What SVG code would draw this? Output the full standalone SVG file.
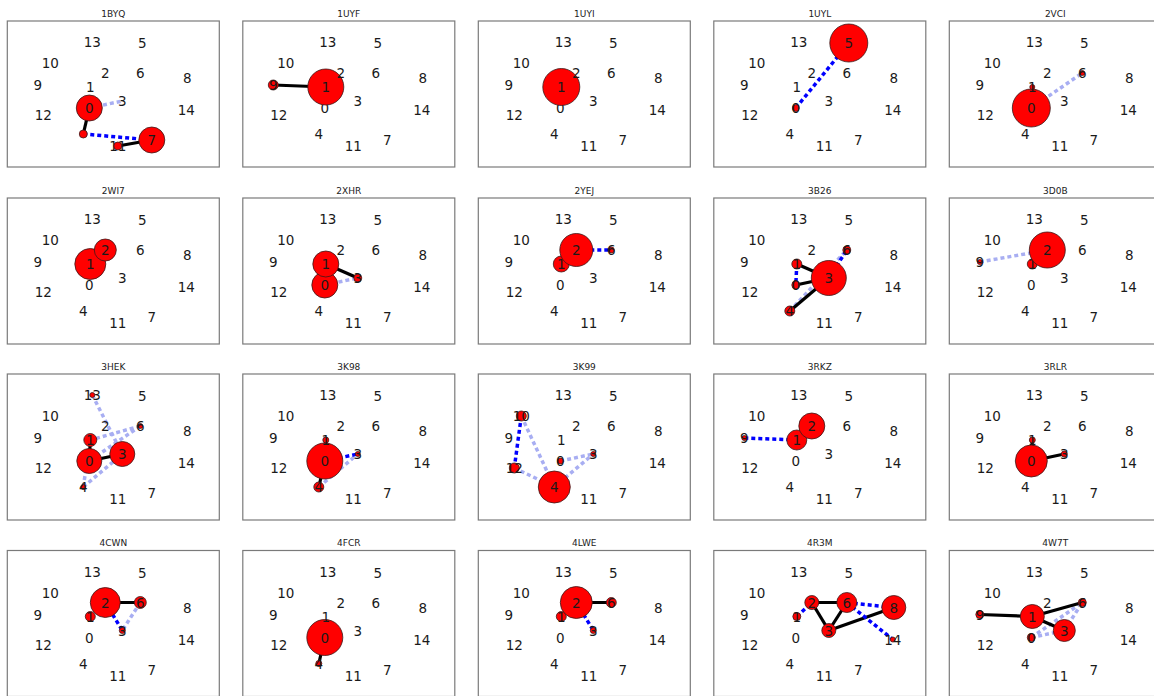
<svg xmlns="http://www.w3.org/2000/svg" width="1154" height="696" viewBox="0 0 1154 696">
<style>
.t{font-family:"DejaVu Sans",sans-serif;font-size:9px;fill:#222;text-anchor:middle}
.l{font-family:"DejaVu Sans",sans-serif;font-size:13.5px;fill:#1a1a1a;text-anchor:middle}
.f{fill:#fff;stroke:#7a7a7a;stroke-width:1.2}
.k{stroke:#000;stroke-width:3.2}
.b{stroke:#0000ff;stroke-width:3.5;stroke-dasharray:4 3}
.lb{stroke:#a8aef2;stroke-width:3.5;stroke-dasharray:4 3}
.n{fill:#ff0000;stroke:#3a1a1a;stroke-width:0.8}
</style>
<rect width="1154" height="696" fill="#fff"/>

<!-- 1BYQ -->
<g id="p-1BYQ" transform="translate(7.3,21)">
<text class="t" x="106" y="-4.5">1BYQ</text>
<rect class="f" x="0" y="0" width="212" height="146"/>
<g id="p-1BYQ-edges">
<line class="lb" x1="82" y1="87" x2="115" y2="80"/>
<line class="k" x1="82" y1="87" x2="76" y2="113"/>
<line class="b" x1="76" y1="113" x2="144.5" y2="119"/>
<line class="k" x1="110.5" y1="125" x2="144.5" y2="119"/>
</g>
<g id="p-1BYQ-n0"><circle class="n" cx="82" cy="87" r="13"/><text class="l" x="82" y="92">0</text></g>
<g id="p-1BYQ-n1"><text class="l" x="83" y="71">1</text></g>
<g id="p-1BYQ-n2"><text class="l" x="98" y="57">2</text></g>
<g id="p-1BYQ-n3"><text class="l" x="115" y="85">3</text></g>
<g id="p-1BYQ-n4"><circle class="n" cx="76" cy="113" r="4"/></g>
<g id="p-1BYQ-n5"><text class="l" x="135" y="27">5</text></g>
<g id="p-1BYQ-n6"><text class="l" x="133" y="57">6</text></g>
<g id="p-1BYQ-n7"><circle class="n" cx="144.5" cy="119" r="13"/><text class="l" x="144.5" y="124">7</text></g>
<g id="p-1BYQ-n8"><text class="l" x="180" y="62">8</text></g>
<g id="p-1BYQ-n9"><text class="l" x="30.5" y="69">9</text></g>
<g id="p-1BYQ-n10"><text class="l" x="43" y="47">10</text></g>
<g id="p-1BYQ-n11"><text class="l" x="110.5" y="130">11</text><circle class="n" cx="110.5" cy="125" r="4"/></g>
<g id="p-1BYQ-n12"><text class="l" x="36" y="99">12</text></g>
<g id="p-1BYQ-n13"><text class="l" x="85" y="26">13</text></g>
<g id="p-1BYQ-n14"><text class="l" x="179" y="94">14</text></g>
</g>

<!-- 1UYF -->
<g id="p-1UYF" transform="translate(242.8,21)">
<text class="t" x="106" y="-4.5">1UYF</text>
<rect class="f" x="0" y="0" width="212" height="146"/>
<g id="p-1UYF-edges">
<line class="k" x1="30.5" y1="64" x2="83" y2="66"/>
</g>
<g id="p-1UYF-n0"><text class="l" x="82" y="92">0</text></g>
<g id="p-1UYF-n1"><circle class="n" cx="83" cy="66" r="18"/><text class="l" x="83" y="71">1</text></g>
<g id="p-1UYF-n2"><text class="l" x="98" y="57">2</text></g>
<g id="p-1UYF-n3"><text class="l" x="115" y="85">3</text></g>
<g id="p-1UYF-n4"><text class="l" x="76" y="118">4</text></g>
<g id="p-1UYF-n5"><text class="l" x="135" y="27">5</text></g>
<g id="p-1UYF-n6"><text class="l" x="133" y="57">6</text></g>
<g id="p-1UYF-n7"><text class="l" x="144.5" y="124">7</text></g>
<g id="p-1UYF-n8"><text class="l" x="180" y="62">8</text></g>
<g id="p-1UYF-n9"><circle class="n" cx="30.5" cy="64" r="5"/><text class="l" x="30.5" y="69">9</text></g>
<g id="p-1UYF-n10"><text class="l" x="43" y="47">10</text></g>
<g id="p-1UYF-n11"><text class="l" x="110.5" y="130">11</text></g>
<g id="p-1UYF-n12"><text class="l" x="36" y="99">12</text></g>
<g id="p-1UYF-n13"><text class="l" x="85" y="26">13</text></g>
<g id="p-1UYF-n14"><text class="l" x="179" y="94">14</text></g>
</g>

<!-- 1UYI -->
<g id="p-1UYI" transform="translate(478.3,21)">
<text class="t" x="106" y="-4.5">1UYI</text>
<rect class="f" x="0" y="0" width="212" height="146"/>
<g id="p-1UYI-edges"></g>
<g id="p-1UYI-n0"><text class="l" x="82" y="92">0</text></g>
<g id="p-1UYI-n1"><circle class="n" cx="83" cy="66" r="18.5"/><text class="l" x="83" y="71">1</text></g>
<g id="p-1UYI-n2"><text class="l" x="98" y="57">2</text></g>
<g id="p-1UYI-n3"><text class="l" x="115" y="85">3</text></g>
<g id="p-1UYI-n4"><text class="l" x="76" y="118">4</text></g>
<g id="p-1UYI-n5"><text class="l" x="135" y="27">5</text></g>
<g id="p-1UYI-n6"><text class="l" x="133" y="57">6</text></g>
<g id="p-1UYI-n7"><text class="l" x="144.5" y="124">7</text></g>
<g id="p-1UYI-n8"><text class="l" x="180" y="62">8</text></g>
<g id="p-1UYI-n9"><text class="l" x="30.5" y="69">9</text></g>
<g id="p-1UYI-n10"><text class="l" x="43" y="47">10</text></g>
<g id="p-1UYI-n11"><text class="l" x="110.5" y="130">11</text></g>
<g id="p-1UYI-n12"><text class="l" x="36" y="99">12</text></g>
<g id="p-1UYI-n13"><text class="l" x="85" y="26">13</text></g>
<g id="p-1UYI-n14"><text class="l" x="179" y="94">14</text></g>
</g>

<!-- 1UYL -->
<g id="p-1UYL" transform="translate(713.8,21)">
<text class="t" x="106" y="-4.5">1UYL</text>
<rect class="f" x="0" y="0" width="212" height="146"/>
<g id="p-1UYL-edges">
<line class="b" x1="82" y1="87" x2="135" y2="22"/>
</g>
<g id="p-1UYL-n0"><circle class="n" cx="82" cy="87" r="3.5"/><text class="l" x="82" y="92">0</text></g>
<g id="p-1UYL-n1"><text class="l" x="83" y="71">1</text></g>
<g id="p-1UYL-n2"><text class="l" x="98" y="57">2</text></g>
<g id="p-1UYL-n3"><text class="l" x="115" y="85">3</text></g>
<g id="p-1UYL-n4"><text class="l" x="76" y="118">4</text></g>
<g id="p-1UYL-n5"><circle class="n" cx="135" cy="22" r="19"/><text class="l" x="135" y="27">5</text></g>
<g id="p-1UYL-n6"><text class="l" x="133" y="57">6</text></g>
<g id="p-1UYL-n7"><text class="l" x="144.5" y="124">7</text></g>
<g id="p-1UYL-n8"><text class="l" x="180" y="62">8</text></g>
<g id="p-1UYL-n9"><text class="l" x="30.5" y="69">9</text></g>
<g id="p-1UYL-n10"><text class="l" x="43" y="47">10</text></g>
<g id="p-1UYL-n11"><text class="l" x="110.5" y="130">11</text></g>
<g id="p-1UYL-n12"><text class="l" x="36" y="99">12</text></g>
<g id="p-1UYL-n13"><text class="l" x="85" y="26">13</text></g>
<g id="p-1UYL-n14"><text class="l" x="179" y="94">14</text></g>
</g>

<!-- 2VCI -->
<g id="p-2VCI" transform="translate(949.3,21)">
<text class="t" x="106" y="-4.5">2VCI</text>
<rect class="f" x="0" y="0" width="212" height="146"/>
<g id="p-2VCI-edges">
<line class="lb" x1="82" y1="87" x2="133" y2="52"/>
</g>
<g id="p-2VCI-n0"><circle class="n" cx="82" cy="87" r="19"/><text class="l" x="82" y="92">0</text></g>
<g id="p-2VCI-n1"><circle class="n" cx="83" cy="66" r="2.5"/><text class="l" x="83" y="71">1</text></g>
<g id="p-2VCI-n2"><text class="l" x="98" y="57">2</text></g>
<g id="p-2VCI-n3"><text class="l" x="115" y="85">3</text></g>
<g id="p-2VCI-n4"><text class="l" x="76" y="118">4</text></g>
<g id="p-2VCI-n5"><text class="l" x="135" y="27">5</text></g>
<g id="p-2VCI-n6"><circle class="n" cx="133" cy="52" r="2.5"/><text class="l" x="133" y="57">6</text></g>
<g id="p-2VCI-n7"><text class="l" x="144.5" y="124">7</text></g>
<g id="p-2VCI-n8"><text class="l" x="180" y="62">8</text></g>
<g id="p-2VCI-n9"><text class="l" x="30.5" y="69">9</text></g>
<g id="p-2VCI-n10"><text class="l" x="43" y="47">10</text></g>
<g id="p-2VCI-n11"><text class="l" x="110.5" y="130">11</text></g>
<g id="p-2VCI-n12"><text class="l" x="36" y="99">12</text></g>
<g id="p-2VCI-n13"><text class="l" x="85" y="26">13</text></g>
<g id="p-2VCI-n14"><text class="l" x="179" y="94">14</text></g>
</g>

<!-- 2WI7 -->
<g id="p-2WI7" transform="translate(7.3,198)">
<text class="t" x="106" y="-4.5">2WI7</text>
<rect class="f" x="0" y="0" width="212" height="146"/>
<g id="p-2WI7-edges"></g>
<g id="p-2WI7-n0"><text class="l" x="82" y="92">0</text></g>
<g id="p-2WI7-n1"><circle class="n" cx="83" cy="66" r="15.5"/><text class="l" x="83" y="71">1</text></g>
<g id="p-2WI7-n2"><circle class="n" cx="98" cy="52" r="11"/><text class="l" x="98" y="57">2</text></g>
<g id="p-2WI7-n3"><text class="l" x="115" y="85">3</text></g>
<g id="p-2WI7-n4"><text class="l" x="76" y="118">4</text></g>
<g id="p-2WI7-n5"><text class="l" x="135" y="27">5</text></g>
<g id="p-2WI7-n6"><text class="l" x="133" y="57">6</text></g>
<g id="p-2WI7-n7"><text class="l" x="144.5" y="124">7</text></g>
<g id="p-2WI7-n8"><text class="l" x="180" y="62">8</text></g>
<g id="p-2WI7-n9"><text class="l" x="30.5" y="69">9</text></g>
<g id="p-2WI7-n10"><text class="l" x="43" y="47">10</text></g>
<g id="p-2WI7-n11"><text class="l" x="110.5" y="130">11</text></g>
<g id="p-2WI7-n12"><text class="l" x="36" y="99">12</text></g>
<g id="p-2WI7-n13"><text class="l" x="85" y="26">13</text></g>
<g id="p-2WI7-n14"><text class="l" x="179" y="94">14</text></g>
</g>

<!-- 2XHR -->
<g id="p-2XHR" transform="translate(242.8,198)">
<text class="t" x="106" y="-4.5">2XHR</text>
<rect class="f" x="0" y="0" width="212" height="146"/>
<g id="p-2XHR-edges">
<line class="lb" x1="82" y1="87" x2="115" y2="80"/>
<line class="k" x1="83" y1="66" x2="115" y2="80"/>
</g>
<g id="p-2XHR-n0"><circle class="n" cx="82" cy="87" r="13"/><text class="l" x="82" y="92">0</text></g>
<g id="p-2XHR-n1"><circle class="n" cx="83" cy="66" r="13"/><text class="l" x="83" y="71">1</text></g>
<g id="p-2XHR-n2"><text class="l" x="98" y="57">2</text></g>
<g id="p-2XHR-n3"><circle class="n" cx="115" cy="80" r="4"/><text class="l" x="115" y="85">3</text></g>
<g id="p-2XHR-n4"><text class="l" x="76" y="118">4</text></g>
<g id="p-2XHR-n5"><text class="l" x="135" y="27">5</text></g>
<g id="p-2XHR-n6"><text class="l" x="133" y="57">6</text></g>
<g id="p-2XHR-n7"><text class="l" x="144.5" y="124">7</text></g>
<g id="p-2XHR-n8"><text class="l" x="180" y="62">8</text></g>
<g id="p-2XHR-n9"><text class="l" x="30.5" y="69">9</text></g>
<g id="p-2XHR-n10"><text class="l" x="43" y="47">10</text></g>
<g id="p-2XHR-n11"><text class="l" x="110.5" y="130">11</text></g>
<g id="p-2XHR-n12"><text class="l" x="36" y="99">12</text></g>
<g id="p-2XHR-n13"><text class="l" x="85" y="26">13</text></g>
<g id="p-2XHR-n14"><text class="l" x="179" y="94">14</text></g>
</g>

<!-- 2YEJ -->
<g id="p-2YEJ" transform="translate(478.3,198)">
<text class="t" x="106" y="-4.5">2YEJ</text>
<rect class="f" x="0" y="0" width="212" height="146"/>
<g id="p-2YEJ-edges">
<line class="b" x1="98" y1="52" x2="133" y2="52"/>
</g>
<g id="p-2YEJ-n0"><text class="l" x="82" y="92">0</text></g>
<g id="p-2YEJ-n1"><circle class="n" cx="83" cy="66" r="8"/><text class="l" x="83" y="71">1</text></g>
<g id="p-2YEJ-n2"><circle class="n" cx="98" cy="52" r="16.5"/><text class="l" x="98" y="57">2</text></g>
<g id="p-2YEJ-n3"><text class="l" x="115" y="85">3</text></g>
<g id="p-2YEJ-n4"><text class="l" x="76" y="118">4</text></g>
<g id="p-2YEJ-n5"><text class="l" x="135" y="27">5</text></g>
<g id="p-2YEJ-n6"><circle class="n" cx="133" cy="52" r="3"/><text class="l" x="133" y="57">6</text></g>
<g id="p-2YEJ-n7"><text class="l" x="144.5" y="124">7</text></g>
<g id="p-2YEJ-n8"><text class="l" x="180" y="62">8</text></g>
<g id="p-2YEJ-n9"><text class="l" x="30.5" y="69">9</text></g>
<g id="p-2YEJ-n10"><text class="l" x="43" y="47">10</text></g>
<g id="p-2YEJ-n11"><text class="l" x="110.5" y="130">11</text></g>
<g id="p-2YEJ-n12"><text class="l" x="36" y="99">12</text></g>
<g id="p-2YEJ-n13"><text class="l" x="85" y="26">13</text></g>
<g id="p-2YEJ-n14"><text class="l" x="179" y="94">14</text></g>
</g>

<!-- 3B26 -->
<g id="p-3B26" transform="translate(713.8,198)">
<text class="t" x="106" y="-4.5">3B26</text>
<rect class="f" x="0" y="0" width="212" height="146"/>
<g id="p-3B26-edges">
<line class="lb" x1="76" y1="113" x2="133" y2="52"/>
<line class="k" x1="83" y1="66" x2="115" y2="80"/>
<line class="k" x1="82" y1="87" x2="115" y2="80"/>
<line class="k" x1="76" y1="113" x2="115" y2="80"/>
<line class="b" x1="115" y1="80" x2="133" y2="52"/>
<line class="b" x1="83" y1="66" x2="82" y2="87"/>
</g>
<g id="p-3B26-n0"><circle class="n" cx="82" cy="87" r="4"/><text class="l" x="82" y="92">0</text></g>
<g id="p-3B26-n1"><circle class="n" cx="83" cy="66" r="5"/><text class="l" x="83" y="71">1</text></g>
<g id="p-3B26-n2"><text class="l" x="98" y="57">2</text></g>
<g id="p-3B26-n3"><circle class="n" cx="115" cy="80" r="17.5"/><text class="l" x="115" y="85">3</text></g>
<g id="p-3B26-n4"><circle class="n" cx="76" cy="113" r="5"/><text class="l" x="76" y="118">4</text></g>
<g id="p-3B26-n5"><text class="l" x="135" y="27">5</text></g>
<g id="p-3B26-n6"><circle class="n" cx="133" cy="52" r="4"/><text class="l" x="133" y="57">6</text></g>
<g id="p-3B26-n7"><text class="l" x="144.5" y="124">7</text></g>
<g id="p-3B26-n8"><text class="l" x="180" y="62">8</text></g>
<g id="p-3B26-n9"><text class="l" x="30.5" y="69">9</text></g>
<g id="p-3B26-n10"><text class="l" x="43" y="47">10</text></g>
<g id="p-3B26-n11"><text class="l" x="110.5" y="130">11</text></g>
<g id="p-3B26-n12"><text class="l" x="36" y="99">12</text></g>
<g id="p-3B26-n13"><text class="l" x="85" y="26">13</text></g>
<g id="p-3B26-n14"><text class="l" x="179" y="94">14</text></g>
</g>

<!-- 3D0B -->
<g id="p-3D0B" transform="translate(949.3,198)">
<text class="t" x="106" y="-4.5">3D0B</text>
<rect class="f" x="0" y="0" width="212" height="146"/>
<g id="p-3D0B-edges">
<line class="lb" x1="30.5" y1="64" x2="98" y2="52"/>
</g>
<g id="p-3D0B-n0"><text class="l" x="82" y="92">0</text></g>
<g id="p-3D0B-n1"><circle class="n" cx="83" cy="66" r="5"/><text class="l" x="83" y="71">1</text></g>
<g id="p-3D0B-n2"><circle class="n" cx="98" cy="52" r="18"/><text class="l" x="98" y="57">2</text></g>
<g id="p-3D0B-n3"><text class="l" x="115" y="85">3</text></g>
<g id="p-3D0B-n4"><text class="l" x="76" y="118">4</text></g>
<g id="p-3D0B-n5"><text class="l" x="135" y="27">5</text></g>
<g id="p-3D0B-n6"><text class="l" x="133" y="57">6</text></g>
<g id="p-3D0B-n7"><text class="l" x="144.5" y="124">7</text></g>
<g id="p-3D0B-n8"><text class="l" x="180" y="62">8</text></g>
<g id="p-3D0B-n9"><circle class="n" cx="30.5" cy="64" r="2.5"/><text class="l" x="30.5" y="69">9</text></g>
<g id="p-3D0B-n10"><text class="l" x="43" y="47">10</text></g>
<g id="p-3D0B-n11"><text class="l" x="110.5" y="130">11</text></g>
<g id="p-3D0B-n12"><text class="l" x="36" y="99">12</text></g>
<g id="p-3D0B-n13"><text class="l" x="85" y="26">13</text></g>
<g id="p-3D0B-n14"><text class="l" x="179" y="94">14</text></g>
</g>

<!-- 3HEK -->
<g id="p-3HEK" transform="translate(7.3,374)">
<text class="t" x="106" y="-4.5">3HEK</text>
<rect class="f" x="0" y="0" width="212" height="146"/>
<g id="p-3HEK-edges">
<line class="lb" x1="85" y1="21" x2="115" y2="80"/>
<line class="lb" x1="133" y1="52" x2="83" y2="66"/>
<line class="lb" x1="133" y1="52" x2="82" y2="87"/>
<line class="lb" x1="76" y1="113" x2="115" y2="80"/>
<line class="lb" x1="76" y1="113" x2="83" y2="66"/>
<line class="k" x1="82" y1="87" x2="83" y2="66"/>
<line class="k" x1="82" y1="87" x2="115" y2="80"/>
</g>
<g id="p-3HEK-n0"><circle class="n" cx="82" cy="87" r="12.5"/><text class="l" x="82" y="92">0</text></g>
<g id="p-3HEK-n1"><circle class="n" cx="83" cy="66" r="6.5"/><text class="l" x="83" y="71">1</text></g>
<g id="p-3HEK-n2"><text class="l" x="98" y="57">2</text></g>
<g id="p-3HEK-n3"><circle class="n" cx="115" cy="80" r="12.5"/><text class="l" x="115" y="85">3</text></g>
<g id="p-3HEK-n4"><circle class="n" cx="76" cy="113" r="2.5"/><text class="l" x="76" y="118">4</text></g>
<g id="p-3HEK-n5"><text class="l" x="135" y="27">5</text></g>
<g id="p-3HEK-n6"><circle class="n" cx="133" cy="52" r="2.5"/><text class="l" x="133" y="57">6</text></g>
<g id="p-3HEK-n7"><text class="l" x="144.5" y="124">7</text></g>
<g id="p-3HEK-n8"><text class="l" x="180" y="62">8</text></g>
<g id="p-3HEK-n9"><text class="l" x="30.5" y="69">9</text></g>
<g id="p-3HEK-n10"><text class="l" x="43" y="47">10</text></g>
<g id="p-3HEK-n11"><text class="l" x="110.5" y="130">11</text></g>
<g id="p-3HEK-n12"><text class="l" x="36" y="99">12</text></g>
<g id="p-3HEK-n13"><circle class="n" cx="85" cy="21" r="2.5"/><text class="l" x="85" y="26">13</text></g>
<g id="p-3HEK-n14"><text class="l" x="179" y="94">14</text></g>
</g>

<!-- 3K98 -->
<g id="p-3K98" transform="translate(242.8,374)">
<text class="t" x="106" y="-4.5">3K98</text>
<rect class="f" x="0" y="0" width="212" height="146"/>
<g id="p-3K98-edges">
<line class="lb" x1="76" y1="113" x2="115" y2="80"/>
<line class="k" x1="82" y1="87" x2="83" y2="66"/>
<line class="k" x1="82" y1="87" x2="76" y2="113"/>
<line class="b" x1="82" y1="87" x2="115" y2="80"/>
</g>
<g id="p-3K98-n0"><circle class="n" cx="82" cy="87" r="18"/><text class="l" x="82" y="92">0</text></g>
<g id="p-3K98-n1"><circle class="n" cx="83" cy="66" r="3"/><text class="l" x="83" y="71">1</text></g>
<g id="p-3K98-n2"><text class="l" x="98" y="57">2</text></g>
<g id="p-3K98-n3"><circle class="n" cx="115" cy="80" r="2.5"/><text class="l" x="115" y="85">3</text></g>
<g id="p-3K98-n4"><circle class="n" cx="76" cy="113" r="5"/><text class="l" x="76" y="118">4</text></g>
<g id="p-3K98-n5"><text class="l" x="135" y="27">5</text></g>
<g id="p-3K98-n6"><text class="l" x="133" y="57">6</text></g>
<g id="p-3K98-n7"><text class="l" x="144.5" y="124">7</text></g>
<g id="p-3K98-n8"><text class="l" x="180" y="62">8</text></g>
<g id="p-3K98-n9"><text class="l" x="30.5" y="69">9</text></g>
<g id="p-3K98-n10"><text class="l" x="43" y="47">10</text></g>
<g id="p-3K98-n11"><text class="l" x="110.5" y="130">11</text></g>
<g id="p-3K98-n12"><text class="l" x="36" y="99">12</text></g>
<g id="p-3K98-n13"><text class="l" x="85" y="26">13</text></g>
<g id="p-3K98-n14"><text class="l" x="179" y="94">14</text></g>
</g>

<!-- 3K99 -->
<g id="p-3K99" transform="translate(478.3,374)">
<text class="t" x="106" y="-4.5">3K99</text>
<rect class="f" x="0" y="0" width="212" height="146"/>
<g id="p-3K99-edges">
<line class="lb" x1="43" y1="42" x2="76" y2="113"/>
<line class="lb" x1="36" y1="94" x2="76" y2="113"/>
<line class="lb" x1="82" y1="87" x2="115" y2="80"/>
<line class="lb" x1="76" y1="113" x2="115" y2="80"/>
<line class="b" x1="43" y1="42" x2="36" y2="94"/>
</g>
<g id="p-3K99-n0"><circle class="n" cx="82" cy="87" r="3"/><text class="l" x="82" y="92">0</text></g>
<g id="p-3K99-n1"><text class="l" x="83" y="71">1</text></g>
<g id="p-3K99-n2"><text class="l" x="98" y="57">2</text></g>
<g id="p-3K99-n3"><circle class="n" cx="115" cy="80" r="2.5"/><text class="l" x="115" y="85">3</text></g>
<g id="p-3K99-n4"><circle class="n" cx="76" cy="113" r="16"/><text class="l" x="76" y="118">4</text></g>
<g id="p-3K99-n5"><text class="l" x="135" y="27">5</text></g>
<g id="p-3K99-n6"><text class="l" x="133" y="57">6</text></g>
<g id="p-3K99-n7"><text class="l" x="144.5" y="124">7</text></g>
<g id="p-3K99-n8"><text class="l" x="180" y="62">8</text></g>
<g id="p-3K99-n9"><text class="l" x="30.5" y="69">9</text></g>
<g id="p-3K99-n10"><circle class="n" cx="43" cy="42" r="5"/><text class="l" x="43" y="47">10</text></g>
<g id="p-3K99-n11"><text class="l" x="110.5" y="130">11</text></g>
<g id="p-3K99-n12"><circle class="n" cx="36" cy="94" r="5"/><text class="l" x="36" y="99">12</text></g>
<g id="p-3K99-n13"><text class="l" x="85" y="26">13</text></g>
<g id="p-3K99-n14"><text class="l" x="179" y="94">14</text></g>
</g>

<!-- 3RKZ -->
<g id="p-3RKZ" transform="translate(713.8,374)">
<text class="t" x="106" y="-4.5">3RKZ</text>
<rect class="f" x="0" y="0" width="212" height="146"/>
<g id="p-3RKZ-edges">
<line class="b" x1="30.5" y1="64" x2="83" y2="66"/>
</g>
<g id="p-3RKZ-n0"><text class="l" x="82" y="92">0</text></g>
<g id="p-3RKZ-n1"><circle class="n" cx="83" cy="66" r="10"/><text class="l" x="83" y="71">1</text></g>
<g id="p-3RKZ-n2"><circle class="n" cx="98" cy="52" r="13"/><text class="l" x="98" y="57">2</text></g>
<g id="p-3RKZ-n3"><text class="l" x="115" y="85">3</text></g>
<g id="p-3RKZ-n4"><text class="l" x="76" y="118">4</text></g>
<g id="p-3RKZ-n5"><text class="l" x="135" y="27">5</text></g>
<g id="p-3RKZ-n6"><text class="l" x="133" y="57">6</text></g>
<g id="p-3RKZ-n7"><text class="l" x="144.5" y="124">7</text></g>
<g id="p-3RKZ-n8"><text class="l" x="180" y="62">8</text></g>
<g id="p-3RKZ-n9"><circle class="n" cx="30.5" cy="64" r="2.5"/><text class="l" x="30.5" y="69">9</text></g>
<g id="p-3RKZ-n10"><text class="l" x="43" y="47">10</text></g>
<g id="p-3RKZ-n11"><text class="l" x="110.5" y="130">11</text></g>
<g id="p-3RKZ-n12"><text class="l" x="36" y="99">12</text></g>
<g id="p-3RKZ-n13"><text class="l" x="85" y="26">13</text></g>
<g id="p-3RKZ-n14"><text class="l" x="179" y="94">14</text></g>
</g>

<!-- 3RLR -->
<g id="p-3RLR" transform="translate(949.3,374)">
<text class="t" x="106" y="-4.5">3RLR</text>
<rect class="f" x="0" y="0" width="212" height="146"/>
<g id="p-3RLR-edges">
<line class="k" x1="82" y1="87" x2="115" y2="80"/>
<line class="k" x1="82" y1="87" x2="83" y2="66"/>
</g>
<g id="p-3RLR-n0"><circle class="n" cx="82" cy="87" r="16"/><text class="l" x="82" y="92">0</text></g>
<g id="p-3RLR-n1"><circle class="n" cx="83" cy="66" r="3"/><text class="l" x="83" y="71">1</text></g>
<g id="p-3RLR-n2"><text class="l" x="98" y="57">2</text></g>
<g id="p-3RLR-n3"><circle class="n" cx="115" cy="80" r="3"/><text class="l" x="115" y="85">3</text></g>
<g id="p-3RLR-n4"><text class="l" x="76" y="118">4</text></g>
<g id="p-3RLR-n5"><text class="l" x="135" y="27">5</text></g>
<g id="p-3RLR-n6"><text class="l" x="133" y="57">6</text></g>
<g id="p-3RLR-n7"><text class="l" x="144.5" y="124">7</text></g>
<g id="p-3RLR-n8"><text class="l" x="180" y="62">8</text></g>
<g id="p-3RLR-n9"><text class="l" x="30.5" y="69">9</text></g>
<g id="p-3RLR-n10"><text class="l" x="43" y="47">10</text></g>
<g id="p-3RLR-n11"><text class="l" x="110.5" y="130">11</text></g>
<g id="p-3RLR-n12"><text class="l" x="36" y="99">12</text></g>
<g id="p-3RLR-n13"><text class="l" x="85" y="26">13</text></g>
<g id="p-3RLR-n14"><text class="l" x="179" y="94">14</text></g>
</g>

<!-- 4CWN -->
<g id="p-4CWN" transform="translate(7.3,550.5)">
<text class="t" x="106" y="-4.5">4CWN</text>
<rect class="f" x="0" y="0" width="212" height="146"/>
<g id="p-4CWN-edges">
<line class="lb" x1="133" y1="52" x2="115" y2="80"/>
<line class="k" x1="98" y1="52" x2="133" y2="52"/>
<line class="b" x1="98" y1="52" x2="115" y2="80"/>
</g>
<g id="p-4CWN-n0"><text class="l" x="82" y="92">0</text></g>
<g id="p-4CWN-n1"><circle class="n" cx="83" cy="66" r="5"/><text class="l" x="83" y="71">1</text></g>
<g id="p-4CWN-n2"><circle class="n" cx="98" cy="52" r="15"/><text class="l" x="98" y="57">2</text></g>
<g id="p-4CWN-n3"><circle class="n" cx="115" cy="80" r="3"/><text class="l" x="115" y="85">3</text></g>
<g id="p-4CWN-n4"><text class="l" x="76" y="118">4</text></g>
<g id="p-4CWN-n5"><text class="l" x="135" y="27">5</text></g>
<g id="p-4CWN-n6"><circle class="n" cx="133" cy="52" r="6"/><text class="l" x="133" y="57">6</text></g>
<g id="p-4CWN-n7"><text class="l" x="144.5" y="124">7</text></g>
<g id="p-4CWN-n8"><text class="l" x="180" y="62">8</text></g>
<g id="p-4CWN-n9"><text class="l" x="30.5" y="69">9</text></g>
<g id="p-4CWN-n10"><text class="l" x="43" y="47">10</text></g>
<g id="p-4CWN-n11"><text class="l" x="110.5" y="130">11</text></g>
<g id="p-4CWN-n12"><text class="l" x="36" y="99">12</text></g>
<g id="p-4CWN-n13"><text class="l" x="85" y="26">13</text></g>
<g id="p-4CWN-n14"><text class="l" x="179" y="94">14</text></g>
</g>

<!-- 4FCR -->
<g id="p-4FCR" transform="translate(242.8,550.5)">
<text class="t" x="106" y="-4.5">4FCR</text>
<rect class="f" x="0" y="0" width="212" height="146"/>
<g id="p-4FCR-edges">
<line class="k" x1="82" y1="87" x2="76" y2="113"/>
</g>
<g id="p-4FCR-n0"><circle class="n" cx="82" cy="87" r="18"/><text class="l" x="82" y="92">0</text></g>
<g id="p-4FCR-n1"><text class="l" x="83" y="71">1</text></g>
<g id="p-4FCR-n2"><text class="l" x="98" y="57">2</text></g>
<g id="p-4FCR-n3"><text class="l" x="115" y="85">3</text></g>
<g id="p-4FCR-n4"><circle class="n" cx="76" cy="113" r="3"/><text class="l" x="76" y="118">4</text></g>
<g id="p-4FCR-n5"><text class="l" x="135" y="27">5</text></g>
<g id="p-4FCR-n6"><text class="l" x="133" y="57">6</text></g>
<g id="p-4FCR-n7"><text class="l" x="144.5" y="124">7</text></g>
<g id="p-4FCR-n8"><text class="l" x="180" y="62">8</text></g>
<g id="p-4FCR-n9"><text class="l" x="30.5" y="69">9</text></g>
<g id="p-4FCR-n10"><text class="l" x="43" y="47">10</text></g>
<g id="p-4FCR-n11"><text class="l" x="110.5" y="130">11</text></g>
<g id="p-4FCR-n12"><text class="l" x="36" y="99">12</text></g>
<g id="p-4FCR-n13"><text class="l" x="85" y="26">13</text></g>
<g id="p-4FCR-n14"><text class="l" x="179" y="94">14</text></g>
</g>

<!-- 4LWE -->
<g id="p-4LWE" transform="translate(478.3,550.5)">
<text class="t" x="106" y="-4.5">4LWE</text>
<rect class="f" x="0" y="0" width="212" height="146"/>
<g id="p-4LWE-edges">
<line class="k" x1="98" y1="52" x2="133" y2="52"/>
<line class="b" x1="98" y1="52" x2="115" y2="80"/>
</g>
<g id="p-4LWE-n0"><text class="l" x="82" y="92">0</text></g>
<g id="p-4LWE-n1"><circle class="n" cx="83" cy="66" r="5"/><text class="l" x="83" y="71">1</text></g>
<g id="p-4LWE-n2"><circle class="n" cx="98" cy="52" r="16"/><text class="l" x="98" y="57">2</text></g>
<g id="p-4LWE-n3"><circle class="n" cx="115" cy="80" r="3"/><text class="l" x="115" y="85">3</text></g>
<g id="p-4LWE-n4"><text class="l" x="76" y="118">4</text></g>
<g id="p-4LWE-n5"><text class="l" x="135" y="27">5</text></g>
<g id="p-4LWE-n6"><circle class="n" cx="133" cy="52" r="5"/><text class="l" x="133" y="57">6</text></g>
<g id="p-4LWE-n7"><text class="l" x="144.5" y="124">7</text></g>
<g id="p-4LWE-n8"><text class="l" x="180" y="62">8</text></g>
<g id="p-4LWE-n9"><text class="l" x="30.5" y="69">9</text></g>
<g id="p-4LWE-n10"><text class="l" x="43" y="47">10</text></g>
<g id="p-4LWE-n11"><text class="l" x="110.5" y="130">11</text></g>
<g id="p-4LWE-n12"><text class="l" x="36" y="99">12</text></g>
<g id="p-4LWE-n13"><text class="l" x="85" y="26">13</text></g>
<g id="p-4LWE-n14"><text class="l" x="179" y="94">14</text></g>
</g>

<!-- 4R3M -->
<g id="p-4R3M" transform="translate(713.8,550.5)">
<text class="t" x="106" y="-4.5">4R3M</text>
<rect class="f" x="0" y="0" width="212" height="146"/>
<g id="p-4R3M-edges">
<line class="k" x1="98" y1="52" x2="133" y2="52"/>
<line class="k" x1="98" y1="52" x2="115" y2="80"/>
<line class="k" x1="133" y1="52" x2="115" y2="80"/>
<line class="k" x1="115" y1="80" x2="180" y2="57"/>
<line class="b" x1="133" y1="52" x2="180" y2="57"/>
<line class="b" x1="83" y1="66" x2="98" y2="52"/>
<line class="b" x1="133" y1="52" x2="179" y2="89"/>
</g>
<g id="p-4R3M-n0"><text class="l" x="82" y="92">0</text></g>
<g id="p-4R3M-n1"><circle class="n" cx="83" cy="66" r="4"/><text class="l" x="83" y="71">1</text></g>
<g id="p-4R3M-n2"><circle class="n" cx="98" cy="52" r="7"/><text class="l" x="98" y="57">2</text></g>
<g id="p-4R3M-n3"><circle class="n" cx="115" cy="80" r="7"/><text class="l" x="115" y="85">3</text></g>
<g id="p-4R3M-n4"><text class="l" x="76" y="118">4</text></g>
<g id="p-4R3M-n5"><text class="l" x="135" y="27">5</text></g>
<g id="p-4R3M-n6"><circle class="n" cx="133" cy="52" r="10"/><text class="l" x="133" y="57">6</text></g>
<g id="p-4R3M-n7"><text class="l" x="144.5" y="124">7</text></g>
<g id="p-4R3M-n8"><circle class="n" cx="180" cy="57" r="12"/><text class="l" x="180" y="62">8</text></g>
<g id="p-4R3M-n9"><text class="l" x="30.5" y="69">9</text></g>
<g id="p-4R3M-n10"><text class="l" x="43" y="47">10</text></g>
<g id="p-4R3M-n11"><text class="l" x="110.5" y="130">11</text></g>
<g id="p-4R3M-n12"><text class="l" x="36" y="99">12</text></g>
<g id="p-4R3M-n13"><text class="l" x="85" y="26">13</text></g>
<g id="p-4R3M-n14"><circle class="n" cx="179" cy="89" r="2.5"/><text class="l" x="179" y="94">14</text></g>
</g>

<!-- 4W7T -->
<g id="p-4W7T" transform="translate(949.3,550.5)">
<text class="t" x="106" y="-4.5">4W7T</text>
<rect class="f" x="0" y="0" width="212" height="146"/>
<g id="p-4W7T-edges">
<line class="lb" x1="82" y1="87" x2="115" y2="80"/>
<line class="lb" x1="82" y1="87" x2="133" y2="52"/>
<line class="lb" x1="115" y1="80" x2="133" y2="52"/>
<line class="k" x1="30.5" y1="64" x2="83" y2="66"/>
<line class="k" x1="83" y1="66" x2="115" y2="80"/>
<line class="k" x1="83" y1="66" x2="133" y2="52"/>
</g>
<g id="p-4W7T-n0"><circle class="n" cx="82" cy="87" r="4"/><text class="l" x="82" y="92">0</text></g>
<g id="p-4W7T-n1"><circle class="n" cx="83" cy="66" r="12"/><text class="l" x="83" y="71">1</text></g>
<g id="p-4W7T-n2"><text class="l" x="98" y="57">2</text></g>
<g id="p-4W7T-n3"><circle class="n" cx="115" cy="80" r="11"/><text class="l" x="115" y="85">3</text></g>
<g id="p-4W7T-n4"><text class="l" x="76" y="118">4</text></g>
<g id="p-4W7T-n5"><text class="l" x="135" y="27">5</text></g>
<g id="p-4W7T-n6"><circle class="n" cx="133" cy="52" r="4"/><text class="l" x="133" y="57">6</text></g>
<g id="p-4W7T-n7"><text class="l" x="144.5" y="124">7</text></g>
<g id="p-4W7T-n8"><text class="l" x="180" y="62">8</text></g>
<g id="p-4W7T-n9"><circle class="n" cx="30.5" cy="64" r="4"/><text class="l" x="30.5" y="69">9</text></g>
<g id="p-4W7T-n10"><text class="l" x="43" y="47">10</text></g>
<g id="p-4W7T-n11"><text class="l" x="110.5" y="130">11</text></g>
<g id="p-4W7T-n12"><text class="l" x="36" y="99">12</text></g>
<g id="p-4W7T-n13"><text class="l" x="85" y="26">13</text></g>
<g id="p-4W7T-n14"><text class="l" x="179" y="94">14</text></g>
</g>
</svg>
